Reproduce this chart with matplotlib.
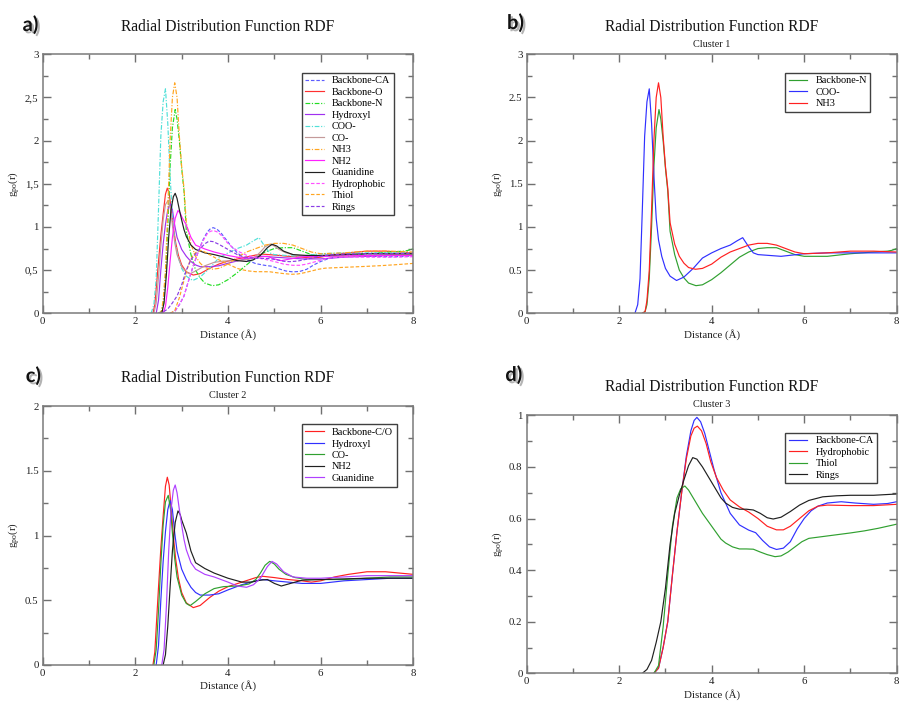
import matplotlib
matplotlib.use("Agg")
import matplotlib.pyplot as plt
from matplotlib.ticker import MultipleLocator, FuncFormatter
import matplotlib.patheffects as pe

plt.rcParams['font.family'] = ['Liberation Serif', 'DejaVu Serif']
plt.rcParams['mathtext.fontset'] = 'custom'
plt.rcParams['mathtext.rm'] = 'Liberation Serif'
plt.rcParams['mathtext.it'] = 'Liberation Serif:italic'

# ---------------- RDF series: distance r (Å) and g(r) ----------------
bca_r = [2.75, 2.85, 2.95, 3.05, 3.15, 3.25, 3.35, 3.45, 3.55, 3.62, 3.68, 3.76, 3.85, 3.95,
         4.05, 4.2, 4.4, 4.6, 4.8, 4.95, 5.1, 5.25, 5.4, 5.55, 5.7, 5.85, 6.0, 6.15, 6.3,
         6.5, 6.8, 7.1, 7.5, 7.8, 8.0]
bca_g = [0.0, 0.02, 0.1, 0.2, 0.38, 0.55, 0.7, 0.84, 0.94, 0.98, 0.992, 0.975, 0.93, 0.86,
         0.79, 0.70, 0.62, 0.575, 0.555, 0.545, 0.515, 0.49, 0.48, 0.485, 0.51, 0.56, 0.6,
         0.63, 0.648, 0.66, 0.665, 0.66, 0.655, 0.658, 0.665]

bo_r = [2.38, 2.42, 2.46, 2.5, 2.55, 2.6, 2.65, 2.69, 2.73, 2.78, 2.82, 2.87, 2.93, 3.0,
        3.1, 3.25, 3.4, 3.6, 3.8, 4.0, 4.3, 4.6, 4.75, 5.0, 5.3, 5.6, 5.8, 6.0, 6.3, 6.6,
        7.0, 7.4, 7.7, 8.0]
bo_g = [0.0, 0.1, 0.35, 0.6, 0.9, 1.15, 1.38, 1.45, 1.39, 1.18, 1.0, 0.82, 0.67, 0.56,
        0.48, 0.443, 0.46, 0.52, 0.57, 0.605, 0.64, 0.675, 0.685, 0.675, 0.66, 0.65, 0.64,
        0.65, 0.68, 0.70, 0.72, 0.72, 0.71, 0.70]

bn_r = [2.5, 2.56, 2.6, 2.65, 2.7, 2.75, 2.8, 2.86, 2.9, 2.95, 3.0, 3.05, 3.1, 3.2, 3.3,
        3.4, 3.5, 3.66, 3.8, 4.0, 4.2, 4.4, 4.6, 4.8, 5.0, 5.2, 5.4, 5.6, 5.8, 6.0, 6.5,
        7.0, 7.5, 7.8, 7.9, 8.0]
bn_g = [0.0, 0.02, 0.1, 0.4, 1.0, 1.7, 2.15, 2.36, 2.25, 2.0, 1.68, 1.42, 0.95, 0.68,
        0.5, 0.41, 0.35, 0.32, 0.33, 0.39, 0.47, 0.56, 0.65, 0.71, 0.75, 0.76, 0.76, 0.72,
        0.68, 0.66, 0.66, 0.69, 0.71, 0.72, 0.73, 0.75]

hy_r = [2.45, 2.5, 2.55, 2.6, 2.65, 2.7, 2.75, 2.8, 2.85, 2.9, 3.0, 3.1, 3.2, 3.3, 3.4,
        3.6, 3.8, 4.0, 4.3, 4.6, 4.75, 5.0, 5.3, 5.6, 6.0, 6.5, 7.0, 7.5, 8.0]
hy_g = [0.0, 0.15, 0.5, 0.8, 1.03, 1.2, 1.27, 1.2, 1.02, 0.88, 0.74, 0.66, 0.6, 0.56,
        0.54, 0.54, 0.55, 0.58, 0.62, 0.65, 0.66, 0.65, 0.64, 0.63, 0.63, 0.65, 0.66,
        0.67, 0.67]

coo_r = [2.34, 2.4, 2.45, 2.5, 2.55, 2.6, 2.65, 2.7, 2.75, 2.8, 2.85, 2.92, 3.0, 3.1,
         3.24, 3.4, 3.6, 3.8, 4.0, 4.2, 4.4, 4.55, 4.67, 4.8, 4.9, 5.0, 5.5, 6.0, 6.5,
         7.0, 7.5, 8.0]
coo_g = [0.0, 0.1, 0.4, 1.2, 2.05, 2.45, 2.60, 2.2, 1.6, 1.1, 0.85, 0.66, 0.52, 0.43,
         0.38, 0.42, 0.52, 0.64, 0.7, 0.75, 0.79, 0.84, 0.876, 0.77, 0.70, 0.68, 0.66,
         0.69, 0.70, 0.70, 0.70, 0.70]

co_r = [2.4, 2.45, 2.5, 2.55, 2.6, 2.65, 2.71, 2.76, 2.8, 2.85, 2.9, 3.0, 3.1, 3.18, 3.3,
        3.5, 3.7, 3.9, 4.2, 4.45, 4.6, 4.7, 4.8, 4.9, 5.0, 5.1, 5.25, 5.45, 5.7, 6.0, 6.5,
        7.0, 7.5, 8.0]
co_g = [0.0, 0.12, 0.42, 0.78, 1.08, 1.26, 1.31, 1.2, 1.02, 0.82, 0.68, 0.54, 0.475,
        0.458, 0.49, 0.55, 0.59, 0.605, 0.61, 0.625, 0.66, 0.71, 0.77, 0.80, 0.78, 0.74,
        0.70, 0.675, 0.66, 0.66, 0.66, 0.67, 0.68, 0.68]

nh3_r = [2.5, 2.56, 2.6, 2.65, 2.7, 2.75, 2.8, 2.85, 2.9, 2.95, 3.0, 3.05, 3.1, 3.2, 3.3,
         3.4, 3.5, 3.65, 3.8, 4.0, 4.2, 4.4, 4.6, 4.8, 5.0, 5.2, 5.4, 5.6, 5.8, 6.0, 6.5,
         7.0, 7.5, 8.0]
nh3_g = [0.0, 0.02, 0.15, 0.5, 1.2, 2.0, 2.5, 2.67, 2.5, 2.05, 1.7, 1.45, 1.05, 0.8,
         0.66, 0.58, 0.53, 0.51, 0.52, 0.57, 0.65, 0.71, 0.75, 0.79, 0.81, 0.81, 0.79,
         0.75, 0.71, 0.69, 0.70, 0.72, 0.72, 0.71]

nh2_r = [2.6, 2.65, 2.7, 2.75, 2.8, 2.86, 2.92, 2.97, 3.0, 3.05, 3.1, 3.2, 3.3, 3.5, 3.7,
         4.0, 4.3, 4.5, 4.7, 4.85, 5.0, 5.15, 5.3, 5.6, 6.0, 6.5, 7.0, 7.5, 8.0]
nh2_g = [0.0, 0.08, 0.3, 0.6, 0.88, 1.1, 1.19, 1.16, 1.12, 1.07, 1.02, 0.88, 0.79, 0.745,
         0.71, 0.67, 0.64, 0.64, 0.655, 0.66, 0.63, 0.61, 0.625, 0.655, 0.66, 0.665, 0.67,
         0.67, 0.67]

gu_r = [2.57, 2.62, 2.67, 2.72, 2.77, 2.82, 2.86, 2.9, 2.95, 3.0, 3.05, 3.1, 3.2, 3.3,
        3.5, 3.7, 4.0, 4.2, 4.4, 4.55, 4.7, 4.85, 4.95, 5.05, 5.2, 5.4, 5.7, 6.0, 6.5, 7.0,
        7.5, 8.0]
gu_g = [0.0, 0.12, 0.45, 0.88, 1.2, 1.35, 1.39, 1.33, 1.2, 1.08, 0.97, 0.89, 0.79, 0.74,
        0.70, 0.68, 0.64, 0.61, 0.6, 0.62, 0.67, 0.76, 0.80, 0.78, 0.72, 0.68, 0.67, 0.67,
        0.68, 0.69, 0.69, 0.69]

hph_r = [2.75, 2.85, 2.95, 3.05, 3.15, 3.25, 3.35, 3.45, 3.55, 3.62, 3.69, 3.78, 3.88,
         3.98, 4.1, 4.25, 4.4, 4.6, 4.8, 5.0, 5.2, 5.4, 5.55, 5.7, 5.9, 6.1, 6.3, 6.5,
         7.0, 7.5, 8.0]
hph_g = [0.0, 0.02, 0.1, 0.2, 0.38, 0.55, 0.7, 0.83, 0.92, 0.95, 0.958, 0.94, 0.89, 0.82,
         0.76, 0.71, 0.672, 0.645, 0.625, 0.6, 0.57, 0.556, 0.556, 0.57, 0.6, 0.63, 0.648,
         0.652, 0.65, 0.65, 0.655]

thi_r = [2.75, 2.85, 2.95, 3.05, 3.15, 3.25, 3.33, 3.42, 3.5, 3.6, 3.7, 3.8, 3.9, 4.0,
         4.1, 4.2, 4.3, 4.45, 4.6, 4.75, 4.9, 5.05, 5.2, 5.37, 5.5, 5.65, 5.8, 5.95, 6.1,
         6.4, 6.7, 7.0, 7.3, 7.6, 8.0]
thi_g = [0.0, 0.03, 0.18, 0.38, 0.57, 0.68, 0.715, 0.726, 0.71, 0.68, 0.65, 0.62, 0.595,
         0.57, 0.545, 0.52, 0.505, 0.49, 0.482, 0.482, 0.481, 0.47, 0.46, 0.452, 0.455,
         0.47, 0.49, 0.51, 0.523, 0.53, 0.537, 0.544, 0.552, 0.562, 0.578]

rng_r = [2.5, 2.6, 2.7, 2.8, 2.9, 3.0, 3.1, 3.2, 3.3, 3.4, 3.5, 3.59, 3.68, 3.8, 3.9, 4.0,
         4.1, 4.2, 4.3, 4.45, 4.6, 4.75, 4.9, 5.05, 5.2, 5.33, 5.5, 5.7, 5.9, 6.1, 6.4,
         6.7, 7.0, 7.5, 8.0]
rng_g = [0.0, 0.015, 0.05, 0.12, 0.2, 0.33, 0.5, 0.62, 0.69, 0.75, 0.805, 0.836, 0.83, 0.8,
         0.77, 0.74, 0.71, 0.68, 0.66, 0.643, 0.636, 0.636, 0.633, 0.62, 0.603, 0.598,
         0.605, 0.627, 0.652, 0.67, 0.684, 0.688, 0.69, 0.69, 0.695]

series = {
    'Backbone-CA': (bca_r, bca_g),
    'Backbone-O': (bo_r, bo_g),
    'Backbone-N': (bn_r, bn_g),
    'Hydroxyl': (hy_r, hy_g),
    'COO-': (coo_r, coo_g),
    'CO-': (co_r, co_g),
    'NH3': (nh3_r, nh3_g),
    'NH2': (nh2_r, nh2_g),
    'Guanidine': (gu_r, gu_g),
    'Hydrophobic': (hph_r, hph_g),
    'Thiol': (thi_r, thi_g),
    'Rings': (rng_r, rng_g),
}

DASH = (0, (3.0, 1.6))
DASHDOT = (0, (4.0, 1.4, 1.0, 1.4))

# panel a: every group, xmgrace-like palette and line styles
style_all = [
    ('Backbone-CA', 'Backbone-CA', '#5c5cff', DASH),
    ('Backbone-O', 'Backbone-O', '#ff3030', '-'),
    ('Backbone-N', 'Backbone-N', '#22dd22', DASHDOT),
    ('Hydroxyl', 'Hydroxyl', '#a030f0', '-'),
    ('COO-', 'COO-', '#50e0d8', DASHDOT),
    ('CO-', 'CO-', '#c49a9a', '-'),
    ('NH3', 'NH3', '#ffa520', DASHDOT),
    ('NH2', 'NH2', '#ff20ff', '-'),
    ('Guanidine', 'Guanidine', '#202020', '-'),
    ('Hydrophobic', 'Hydrophobic', '#ff50ff', DASH),
    ('Thiol', 'Thiol', '#ffa520', DASH),
    ('Rings', 'Rings', '#8a3ee6', DASH),
]
style_c1 = [
    ('Backbone-N', 'Backbone-N', '#30a030', '-'),
    ('COO-', 'COO-', '#3030ff', '-'),
    ('NH3', 'NH3', '#ff2020', '-'),
]
style_c2 = [
    ('Backbone-O', 'Backbone-C/O', '#ff2020', '-'),
    ('Hydroxyl', 'Hydroxyl', '#3030ff', '-'),
    ('CO-', 'CO-', '#30a030', '-'),
    ('NH2', 'NH2', '#202020', '-'),
    ('Guanidine', 'Guanidine', '#b040ff', '-'),
]
style_c3 = [
    ('Backbone-CA', 'Backbone-CA', '#3030ff', '-'),
    ('Hydrophobic', 'Hydrophobic', '#ff2020', '-'),
    ('Thiol', 'Thiol', '#30a030', '-'),
    ('Rings', 'Rings', '#202020', '-'),
]

W, H = 900, 703
fig = plt.figure(figsize=(W / 100, H / 100), dpi=100)


def box(l, t, r, b):
    return [l / W, 1 - b / H, (r - l) / W, (b - t) / H]


def comma(v, pos):
    return f'{v:g}'.replace('.', ',')


def dot(v, pos):
    return f'{v:g}'


def panel(rect, styles, ymax, ymaj, ymin, fmt, title_y, sub, sub_y, leg_xy, letter, letter_xy):
    ax = fig.add_axes(box(*rect))
    for key, label, color, ls in styles:
        r, g = series[key]
        ax.plot(r, g, color=color, ls=ls, lw=0.85, label=label)
    ax.set_xlim(0, 8)
    ax.set_ylim(0, ymax)
    ax.xaxis.set_major_locator(MultipleLocator(2))
    ax.xaxis.set_minor_locator(MultipleLocator(1))
    ax.yaxis.set_major_locator(MultipleLocator(ymaj))
    ax.yaxis.set_minor_locator(MultipleLocator(ymin))
    ax.yaxis.set_major_formatter(FuncFormatter(fmt))
    ax.xaxis.set_major_formatter(FuncFormatter(dot))
    ax.tick_params(which='both', direction='in', top=True, right=True,
                   color='#707070', width=1.0, labelsize=7.8, labelcolor='#202020', pad=3)
    ax.tick_params(which='major', length=5.5)
    ax.tick_params(which='minor', length=3.5)
    for s in ax.spines.values():
        s.set_color('#7a7a7a')
        s.set_linewidth(1.1)
    ax.set_xlabel('Distance (Å)', fontsize=7.8, labelpad=1.5, color='#202020')
    ax.set_ylabel(r'g$_{\rm po}$(r)', fontsize=7.8, color='#202020')
    ax.yaxis.set_label_coords(-0.056, 0.5)

    cx = (rect[0] + rect[2]) / 2
    fig.text(cx / W, 1 - title_y / H, 'Radial Distribution Function RDF',
             fontsize=11.2, ha='center', va='center', color='#151515')
    if sub:
        fig.text(cx / W, 1 - sub_y / H, sub, fontsize=7.4, ha='center', va='center',
                 color='#202020')

    leg = ax.legend(loc='upper left', bbox_to_anchor=(leg_xy[0] / W, 1 - leg_xy[1] / H),
                    bbox_transform=fig.transFigure, borderaxespad=0, fontsize=7.4,
                    frameon=True, fancybox=False, framealpha=1, edgecolor='#404040',
                    handlelength=1.8, handletextpad=0.8, labelspacing=0.22,
                    borderpad=0.35)
    leg.get_frame().set_linewidth(1.0)

    fig.text(letter_xy[0] / W, 1 - letter_xy[1] / H, letter, fontsize=14.5,
             fontweight='bold', family='Lato', ha='center', va='center', color='#111111',
             path_effects=[pe.withSimplePatchShadow(offset=(1.6, -1.6),
                                                    shadow_rgbFace='#777777', alpha=0.55)])
    return ax


panel((42.7, 54.3, 413.3, 313.3), style_all, 3, 0.5, 0.25, comma,
      27, None, None, (301.7, 72.7), 'a)', (30.5, 25))
panel((526.7, 54.3, 896.7, 313.3), style_c1, 3, 0.5, 0.25, dot,
      27, 'Cluster 1', 44.3, (785, 72.7), 'b)', (515.5, 23))
panel((42.7, 406, 413.3, 665), style_c2, 2, 0.5, 0.25, dot,
      378.3, 'Cluster 2', 395.7, (301.7, 424.3), 'c)', (33.3, 376))
panel((526.7, 415.3, 896.7, 673.3), style_c3, 1, 0.2, 0.1, dot,
      387.3, 'Cluster 3', 404.3, (785, 432.7), 'd)', (513.8, 375))

fig.savefig('out.png', dpi=100, facecolor='white')
